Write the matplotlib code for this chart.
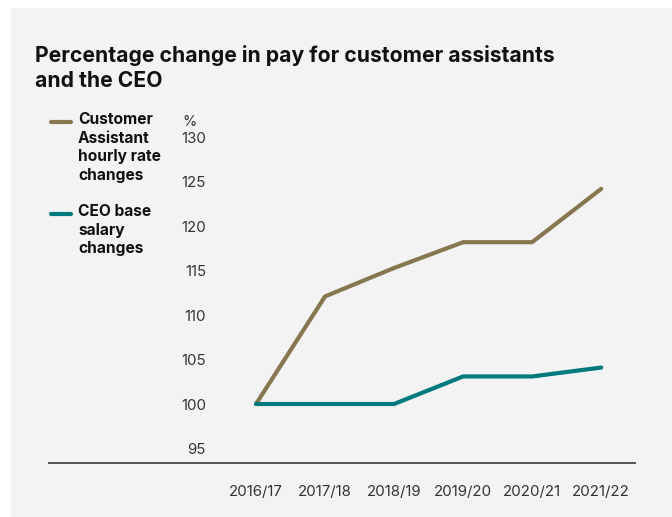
import matplotlib.pyplot as plt
from matplotlib.patches import Rectangle

years = ['2016/17', '2017/18', '2018/19', '2019/20', '2020/21', '2021/22']
customer_assistant = [100, 112.1, 115.3, 118.2, 118.2, 124.2]
ceo = [100, 100, 100, 103.1, 103.1, 104.1]
yticks = [95, 100, 105, 110, 115, 120, 125, 130]

brown = '#86774f'
teal = '#007a7c'
bg = '#f3f3f3'

plt.rcParams['font.family'] = ['Inter', 'DejaVu Sans']

W, H = 672, 517
fig = plt.figure(figsize=(W / 100, H / 100), dpi=100)
fig.patch.set_facecolor('white')
fig.patches.append(Rectangle((11 / W, 0), 1 - 11 / W, 1 - 8 / H,
                             transform=fig.transFigure, facecolor=bg,
                             edgecolor='none', zorder=-5))

# axes placed in pixel terms, 8.89 px per unit, 100 at y=404
ax_l, ax_r, ax_b, ax_t = 215, 635, 463, 130
ppu = 8.89
ax = fig.add_axes([ax_l / W, 1 - ax_b / H, (ax_r - ax_l) / W, (ax_b - ax_t) / H])
ax.set_facecolor('none')

x = list(range(len(years)))
ax.plot(x, customer_assistant, color=brown, lw=3, solid_capstyle='round', zorder=3)
ax.plot(x, ceo, color=teal, lw=3, solid_capstyle='round', zorder=4)

ax.set_xlim(-0.594, 5.49)
ax.set_ylim(100 - (ax_b - 404) / ppu, 100 + (404 - ax_t) / ppu)

for s in ax.spines.values():
    s.set_visible(False)
ax.axhline(ax.get_ylim()[0], xmin=(49 - ax_l) / (ax_r - ax_l), xmax=1,
           color='#444444', lw=1.3, clip_on=False)

ax.set_xticks(x)
ax.set_xticklabels(years)
ax.set_yticks(yticks)
ax.set_yticklabels([str(v) for v in yticks])
ax.tick_params(axis='both', length=0, labelsize=10.8, labelcolor='#333333')
ax.tick_params(axis='x', pad=16)
ax.tick_params(axis='y', pad=6.5)

fig.text(182 / W, 1 - 122 / H, '%', fontsize=10.5, color='#333333',
         ha='left', va='center')

fig.text(35 / W, 1 - 55 / H, 'Percentage change in pay for customer assistants',
         fontsize=15.2, fontweight='bold', color='#111111', va='center')
fig.text(35 / W, 1 - 81 / H, 'and the CEO',
         fontsize=15.2, fontweight='bold', color='#111111', va='center')

# legend
legend = [('Customer\nAssistant\nhourly rate\nchanges', brown, 122),
          ('CEO base\nsalary\nchanges', teal, 214)]
for label, col, ypx in legend:
    fig.add_artist(plt.Line2D([51 / W, 71 / W], [1 - ypx / H, 1 - ypx / H],
                              color=col, lw=3, solid_capstyle='round',
                              transform=fig.transFigure))
    fig.text(78 / W, 1 - (ypx - 9.5) / H, label, fontsize=11.2, fontweight='bold',
             color='#111111', va='top', ha='left', linespacing=1.28)

fig.savefig('out.png', dpi=100, facecolor=fig.get_facecolor())
